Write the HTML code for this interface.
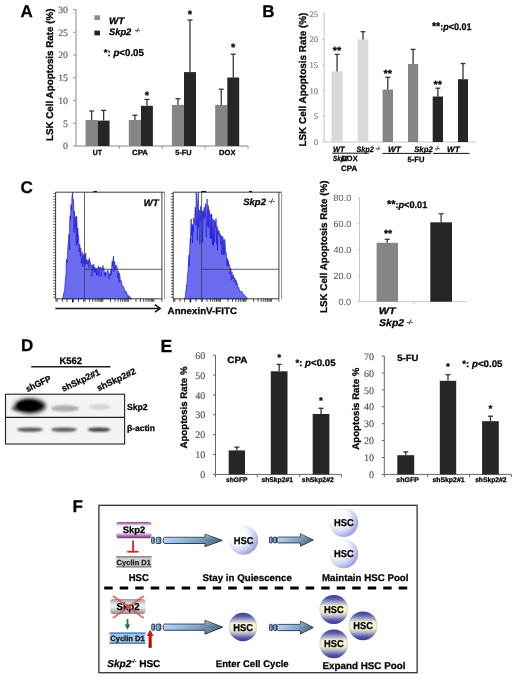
<!DOCTYPE html>
<html><head><meta charset="utf-8"><style>
html,body{margin:0;padding:0;background:#fff;}
svg{display:block;will-change:transform;} text{text-rendering:geometricPrecision;}
</style></head><body>
<svg width="520" height="679" viewBox="0 0 520 679">
<rect width="520" height="679" fill="#fff"/>
<text x="20.6" y="16.8" font-family='"Liberation Sans", sans-serif' font-size="17" font-weight="bold" font-style="normal" fill="#000" text-anchor="start"  stroke="#000" stroke-width="0.25">A</text>
<line x1="76.0" y1="9.5" x2="76.0" y2="146" stroke="#888" stroke-width="1" />
<line x1="73.3" y1="146.0" x2="75.7" y2="146.0" stroke="#888" stroke-width="1" />
<text x="68.0" y="149.3" font-family='"Liberation Serif", serif' font-size="9.8" font-weight="normal" font-style="normal" fill="#5a5a5a" text-anchor="end" stroke="#5a5a5a" stroke-width="0.15">0</text>
<line x1="73.3" y1="123.25" x2="75.7" y2="123.25" stroke="#888" stroke-width="1" />
<text x="68.0" y="126.55" font-family='"Liberation Serif", serif' font-size="9.8" font-weight="normal" font-style="normal" fill="#5a5a5a" text-anchor="end" stroke="#5a5a5a" stroke-width="0.15">5</text>
<line x1="73.3" y1="100.5" x2="75.7" y2="100.5" stroke="#888" stroke-width="1" />
<text x="68.0" y="103.8" font-family='"Liberation Serif", serif' font-size="9.8" font-weight="normal" font-style="normal" fill="#5a5a5a" text-anchor="end" stroke="#5a5a5a" stroke-width="0.15">10</text>
<line x1="73.3" y1="77.75" x2="75.7" y2="77.75" stroke="#888" stroke-width="1" />
<text x="68.0" y="81.05" font-family='"Liberation Serif", serif' font-size="9.8" font-weight="normal" font-style="normal" fill="#5a5a5a" text-anchor="end" stroke="#5a5a5a" stroke-width="0.15">15</text>
<line x1="73.3" y1="55.0" x2="75.7" y2="55.0" stroke="#888" stroke-width="1" />
<text x="68.0" y="58.3" font-family='"Liberation Serif", serif' font-size="9.8" font-weight="normal" font-style="normal" fill="#5a5a5a" text-anchor="end" stroke="#5a5a5a" stroke-width="0.15">20</text>
<line x1="73.3" y1="32.25" x2="75.7" y2="32.25" stroke="#888" stroke-width="1" />
<text x="68.0" y="35.55" font-family='"Liberation Serif", serif' font-size="9.8" font-weight="normal" font-style="normal" fill="#5a5a5a" text-anchor="end" stroke="#5a5a5a" stroke-width="0.15">25</text>
<line x1="73.3" y1="9.5" x2="75.7" y2="9.5" stroke="#888" stroke-width="1" />
<text x="68.0" y="12.8" font-family='"Liberation Serif", serif' font-size="9.8" font-weight="normal" font-style="normal" fill="#5a5a5a" text-anchor="end" stroke="#5a5a5a" stroke-width="0.15">30</text>
<line x1="75.7" y1="146" x2="248" y2="146" stroke="#888" stroke-width="1" />
<line x1="119.6" y1="146" x2="119.6" y2="148.5" stroke="#888" stroke-width="1" />
<line x1="162.4" y1="146" x2="162.4" y2="148.5" stroke="#888" stroke-width="1" />
<line x1="205.2" y1="146" x2="205.2" y2="148.5" stroke="#888" stroke-width="1" />
<line x1="248" y1="146" x2="248" y2="148.5" stroke="#888" stroke-width="1" />
<text transform="translate(53.4,74.8) rotate(-90)" x="0" y="0" font-family='"Liberation Sans", sans-serif' font-size="9.8" font-weight="bold" fill="#000" text-anchor="middle" stroke="#000" stroke-width="0.25" textLength="132.5" lengthAdjust="spacingAndGlyphs">LSK Cell Apoptosis Rate (%)</text>
<rect x="85.6" y="120" width="12.100000000000009" height="26" fill="#858585" />
<rect x="97.7" y="120.6" width="11.899999999999991" height="25.400000000000006" fill="#262626" />
<line x1="91.65" y1="120" x2="91.65" y2="111" stroke="#2a2a2a" stroke-width="1.2" />
<line x1="89.15" y1="111" x2="94.15" y2="111" stroke="#2a2a2a" stroke-width="1.2" />
<line x1="103.65" y1="120.6" x2="103.65" y2="110.4" stroke="#2a2a2a" stroke-width="1.2" />
<line x1="101.15" y1="110.4" x2="106.15" y2="110.4" stroke="#2a2a2a" stroke-width="1.2" />
<rect x="128.8" y="120" width="12.199999999999989" height="26" fill="#858585" />
<rect x="141" y="105.8" width="11.900000000000006" height="40.2" fill="#262626" />
<line x1="134.9" y1="120" x2="134.9" y2="115.2" stroke="#2a2a2a" stroke-width="1.2" />
<line x1="132.4" y1="115.2" x2="137.4" y2="115.2" stroke="#2a2a2a" stroke-width="1.2" />
<line x1="146.95" y1="105.8" x2="146.95" y2="99.4" stroke="#2a2a2a" stroke-width="1.2" />
<line x1="144.45" y1="99.4" x2="149.45" y2="99.4" stroke="#2a2a2a" stroke-width="1.2" />
<text x="146.95" y="98.89999999999999" font-family='"Liberation Sans", sans-serif' font-size="11" font-weight="bold" font-style="normal" fill="#000" text-anchor="middle"  stroke="#000" stroke-width="0.25">*</text>
<rect x="171.9" y="105" width="12.099999999999994" height="41" fill="#858585" />
<rect x="184" y="72.1" width="12" height="73.9" fill="#262626" />
<line x1="177.95" y1="105" x2="177.95" y2="98.7" stroke="#2a2a2a" stroke-width="1.2" />
<line x1="175.45" y1="98.7" x2="180.45" y2="98.7" stroke="#2a2a2a" stroke-width="1.2" />
<line x1="190.0" y1="72.1" x2="190.0" y2="20" stroke="#2a2a2a" stroke-width="1.2" />
<line x1="187.5" y1="20" x2="192.5" y2="20" stroke="#2a2a2a" stroke-width="1.2" />
<text x="190.0" y="18.3" font-family='"Liberation Sans", sans-serif' font-size="11" font-weight="bold" font-style="normal" fill="#000" text-anchor="middle"  stroke="#000" stroke-width="0.25">*</text>
<rect x="215.2" y="105" width="12.100000000000023" height="41" fill="#858585" />
<rect x="227.3" y="77.5" width="11.899999999999977" height="68.5" fill="#262626" />
<line x1="221.25" y1="105" x2="221.25" y2="89.2" stroke="#2a2a2a" stroke-width="1.2" />
<line x1="218.75" y1="89.2" x2="223.75" y2="89.2" stroke="#2a2a2a" stroke-width="1.2" />
<line x1="233.25" y1="77.5" x2="233.25" y2="54.2" stroke="#2a2a2a" stroke-width="1.2" />
<line x1="230.75" y1="54.2" x2="235.75" y2="54.2" stroke="#2a2a2a" stroke-width="1.2" />
<text x="233.25" y="50.5" font-family='"Liberation Sans", sans-serif' font-size="11" font-weight="bold" font-style="normal" fill="#000" text-anchor="middle"  stroke="#000" stroke-width="0.25">*</text>
<text x="97.4" y="154.8" font-family='"Liberation Sans", sans-serif' font-size="7.4" font-weight="bold" font-style="normal" fill="#000" text-anchor="middle" textLength="9.2" lengthAdjust="spacingAndGlyphs"  stroke="#000" stroke-width="0.25">UT</text>
<text x="140.0" y="154.8" font-family='"Liberation Sans", sans-serif' font-size="7.4" font-weight="bold" font-style="normal" fill="#000" text-anchor="middle" textLength="16" lengthAdjust="spacingAndGlyphs"  stroke="#000" stroke-width="0.25">CPA</text>
<text x="183.5" y="154.8" font-family='"Liberation Sans", sans-serif' font-size="7.4" font-weight="bold" font-style="normal" fill="#000" text-anchor="middle" textLength="16.3" lengthAdjust="spacingAndGlyphs"  stroke="#000" stroke-width="0.25">5-FU</text>
<text x="227.3" y="154.8" font-family='"Liberation Sans", sans-serif' font-size="7.4" font-weight="bold" font-style="normal" fill="#000" text-anchor="middle" textLength="16.4" lengthAdjust="spacingAndGlyphs"  stroke="#000" stroke-width="0.25">DOX</text>
<rect x="94.4" y="15.3" width="5.6" height="4.8" fill="#8c8c8c" />
<rect x="94.4" y="30.6" width="5.6" height="4.8" fill="#222" />
<text x="109" y="23.75" font-family='"Liberation Sans", sans-serif' font-size="9.5" font-weight="bold" font-style="italic" fill="#000" text-anchor="start" textLength="15.4" lengthAdjust="spacingAndGlyphs"  stroke="#000" stroke-width="0.25">WT</text>
<text x="109" y="34.9" font-family='"Liberation Sans", sans-serif' font-size="9.4" font-weight="bold" font-style="italic" fill="#000" text-anchor="start" textLength="22.3" lengthAdjust="spacingAndGlyphs"  stroke="#000" stroke-width="0.25">Skp2</text>
<text x="135" y="32.3" font-family='"Liberation Sans", sans-serif' font-size="5.2" font-weight="bold" font-style="italic" fill="#333" text-anchor="start"  stroke="#333" stroke-width="0.25">-/-</text>
<text x="103.7" y="55.9" font-family='"Liberation Sans", sans-serif' font-size="10" font-weight="bold" stroke="#000" stroke-width="0.25" textLength="40.2" lengthAdjust="spacingAndGlyphs">*: <tspan font-style="italic">p</tspan>&lt;0.05</text>
<text x="262.2" y="17.2" font-family='"Liberation Sans", sans-serif' font-size="17" font-weight="bold" font-style="normal" fill="#000" text-anchor="start"  stroke="#000" stroke-width="0.25">B</text>
<line x1="324.2" y1="13.75" x2="324.2" y2="142" stroke="#c4c4c4" stroke-width="1" />
<line x1="324.2" y1="142" x2="475.4" y2="142" stroke="#c4c4c4" stroke-width="1" />
<line x1="322.2" y1="142.0" x2="324.2" y2="142.0" stroke="#c4c4c4" stroke-width="1" />
<text x="318" y="144.9" font-family='"Liberation Serif", serif' font-size="8.6" font-weight="normal" font-style="normal" fill="#808080" text-anchor="end" stroke="#808080" stroke-width="0.15">0</text>
<line x1="322.2" y1="116.35" x2="324.2" y2="116.35" stroke="#c4c4c4" stroke-width="1" />
<text x="318" y="119.25" font-family='"Liberation Serif", serif' font-size="8.6" font-weight="normal" font-style="normal" fill="#808080" text-anchor="end" stroke="#808080" stroke-width="0.15">5</text>
<line x1="322.2" y1="90.7" x2="324.2" y2="90.7" stroke="#c4c4c4" stroke-width="1" />
<text x="318" y="93.60000000000001" font-family='"Liberation Serif", serif' font-size="8.6" font-weight="normal" font-style="normal" fill="#808080" text-anchor="end" stroke="#808080" stroke-width="0.15">10</text>
<line x1="322.2" y1="65.05" x2="324.2" y2="65.05" stroke="#c4c4c4" stroke-width="1" />
<text x="318" y="67.95" font-family='"Liberation Serif", serif' font-size="8.6" font-weight="normal" font-style="normal" fill="#808080" text-anchor="end" stroke="#808080" stroke-width="0.15">15</text>
<line x1="322.2" y1="39.400000000000006" x2="324.2" y2="39.400000000000006" stroke="#c4c4c4" stroke-width="1" />
<text x="318" y="42.300000000000004" font-family='"Liberation Serif", serif' font-size="8.6" font-weight="normal" font-style="normal" fill="#808080" text-anchor="end" stroke="#808080" stroke-width="0.15">20</text>
<line x1="322.2" y1="13.75" x2="324.2" y2="13.75" stroke="#c4c4c4" stroke-width="1" />
<text x="318" y="16.65" font-family='"Liberation Serif", serif' font-size="8.6" font-weight="normal" font-style="normal" fill="#808080" text-anchor="end" stroke="#808080" stroke-width="0.15">25</text>
<text transform="translate(306.3,79.6) rotate(-90)" x="0" y="0" font-family='"Liberation Sans", sans-serif' font-size="10" font-weight="bold" fill="#000" text-anchor="middle" stroke="#000" stroke-width="0.25" textLength="134" lengthAdjust="spacingAndGlyphs">LSK Cell Apoptosis Rate (%)</text>
<rect x="331.5" y="71.5" width="11.199999999999989" height="70.5" fill="#d9d9d9" />
<line x1="337.1" y1="71.5" x2="337.1" y2="54.4" stroke="#333" stroke-width="1.3" />
<line x1="334.70000000000005" y1="54.4" x2="339.5" y2="54.4" stroke="#333" stroke-width="1.3" />
<text x="337.1" y="53.9" font-family='"Liberation Sans", sans-serif' font-size="10.5" font-weight="bold" font-style="normal" fill="#000" text-anchor="middle" textLength="8.5" lengthAdjust="spacingAndGlyphs"  stroke="#000" stroke-width="0.25">**</text>
<rect x="357.7" y="39.4" width="10.600000000000023" height="102.6" fill="#d9d9d9" />
<line x1="363.0" y1="39.4" x2="363.0" y2="31.7" stroke="#333" stroke-width="1.3" />
<line x1="360.6" y1="31.7" x2="365.4" y2="31.7" stroke="#333" stroke-width="1.3" />
<rect x="382.6" y="89.5" width="10.399999999999977" height="52.5" fill="#858585" />
<line x1="387.8" y1="89.5" x2="387.8" y2="77.3" stroke="#333" stroke-width="1.3" />
<line x1="385.40000000000003" y1="77.3" x2="390.2" y2="77.3" stroke="#333" stroke-width="1.3" />
<text x="387.8" y="76.9" font-family='"Liberation Sans", sans-serif' font-size="10.5" font-weight="bold" font-style="normal" fill="#000" text-anchor="middle" textLength="8.5" lengthAdjust="spacingAndGlyphs"  stroke="#000" stroke-width="0.25">**</text>
<rect x="408.0" y="64.0" width="10.199999999999989" height="78.0" fill="#858585" />
<line x1="413.1" y1="64.0" x2="413.1" y2="49.4" stroke="#333" stroke-width="1.3" />
<line x1="410.70000000000005" y1="49.4" x2="415.5" y2="49.4" stroke="#333" stroke-width="1.3" />
<rect x="432.7" y="96.5" width="10.300000000000011" height="45.5" fill="#262626" />
<line x1="437.85" y1="96.5" x2="437.85" y2="88.2" stroke="#333" stroke-width="1.3" />
<line x1="435.45000000000005" y1="88.2" x2="440.25" y2="88.2" stroke="#333" stroke-width="1.3" />
<text x="437.85" y="87.9" font-family='"Liberation Sans", sans-serif' font-size="10.5" font-weight="bold" font-style="normal" fill="#000" text-anchor="middle" textLength="8.5" lengthAdjust="spacingAndGlyphs"  stroke="#000" stroke-width="0.25">**</text>
<rect x="458.0" y="79.2" width="10.0" height="62.8" fill="#262626" />
<line x1="463.0" y1="79.2" x2="463.0" y2="63.5" stroke="#333" stroke-width="1.3" />
<line x1="460.6" y1="63.5" x2="465.4" y2="63.5" stroke="#333" stroke-width="1.3" />
<text x="431.9" y="30.4" font-family='"Liberation Sans", sans-serif' font-size="9.6" font-weight="bold" stroke="#000" stroke-width="0.25" textLength="39.6" lengthAdjust="spacingAndGlyphs"><tspan font-size="11.5">**</tspan>:<tspan font-style="italic">p</tspan>&lt;0.01</text>
<text x="333" y="151.6" font-family='"Liberation Sans", sans-serif' font-size="8" font-weight="bold" font-style="italic" fill="#000" text-anchor="start" textLength="11.6" lengthAdjust="spacingAndGlyphs"  stroke="#000" stroke-width="0.25">WT</text>
<text x="388" y="151.6" font-family='"Liberation Sans", sans-serif' font-size="8" font-weight="bold" font-style="italic" fill="#000" text-anchor="start" textLength="12.8" lengthAdjust="spacingAndGlyphs"  stroke="#000" stroke-width="0.25">WT</text>
<text x="447" y="151.6" font-family='"Liberation Sans", sans-serif' font-size="8" font-weight="bold" font-style="italic" fill="#000" text-anchor="start" textLength="12.6" lengthAdjust="spacingAndGlyphs"  stroke="#000" stroke-width="0.25">WT</text>
<text x="356.5" y="151.6" font-family='"Liberation Sans", sans-serif' font-size="8" font-weight="bold" font-style="italic" fill="#000" text-anchor="start" textLength="17.3" lengthAdjust="spacingAndGlyphs"  stroke="#000" stroke-width="0.25">Skp2</text>
<text x="375.8" y="149.6" font-family='"Liberation Sans", sans-serif' font-size="4.8" font-weight="bold" font-style="italic" fill="#333" text-anchor="start"  stroke="#333" stroke-width="0.25">-/-</text>
<text x="414.2" y="151.6" font-family='"Liberation Sans", sans-serif' font-size="8" font-weight="bold" font-style="italic" fill="#000" text-anchor="start" textLength="18.5" lengthAdjust="spacingAndGlyphs"  stroke="#000" stroke-width="0.25">Skp2</text>
<text x="435" y="149.6" font-family='"Liberation Sans", sans-serif' font-size="4.8" font-weight="bold" font-style="italic" fill="#333" text-anchor="start"  stroke="#333" stroke-width="0.25">-/-</text>
<line x1="332.2" y1="153.2" x2="369" y2="153.2" stroke="#111" stroke-width="1" />
<line x1="382.5" y1="153.4" x2="431" y2="153.4" stroke="#111" stroke-width="1" />
<line x1="433" y1="153.4" x2="469.6" y2="153.4" stroke="#111" stroke-width="1" />
<text x="333" y="160.8" font-family='"Liberation Sans", sans-serif' font-size="7.6" font-weight="bold" font-style="italic" fill="#000" text-anchor="start" textLength="15" lengthAdjust="spacingAndGlyphs"  stroke="#000" stroke-width="0.25">Skp2</text>
<text x="341.5" y="160.8" font-family='"Liberation Sans", sans-serif' font-size="7.6" font-weight="bold" font-style="normal" fill="#000" text-anchor="start" textLength="16.1" lengthAdjust="spacingAndGlyphs"  stroke="#000" stroke-width="0.25">DOX</text>
<text x="341" y="171.1" font-family='"Liberation Sans", sans-serif' font-size="7.8" font-weight="bold" font-style="normal" fill="#000" text-anchor="start" textLength="16.2" lengthAdjust="spacingAndGlyphs"  stroke="#000" stroke-width="0.25">CPA</text>
<text x="407.5" y="161.7" font-family='"Liberation Sans", sans-serif' font-size="7.6" font-weight="bold" font-style="normal" fill="#000" text-anchor="start" textLength="16.9" lengthAdjust="spacingAndGlyphs"  stroke="#000" stroke-width="0.25">5-FU</text>
<text x="20.5" y="193.3" font-family='"Liberation Sans", sans-serif' font-size="17" font-weight="bold" font-style="normal" fill="#000" text-anchor="start"  stroke="#000" stroke-width="0.25">C</text>
<path d="M62.70,298.8 L62.70,298.3 L62.70,298.8 L63.39,294.9 L63.99,292.3 L64.58,290.4 L65.00,285.0 L65.28,280.3 L66.00,273.4 L66.20,264.0 L66.69,259.1 L67.12,263.1 L67.79,248.1 L68.00,245.7 L68.54,241.0 L68.97,234.1 L69.58,250.1 L69.60,222.6 L70.14,215.6 L70.57,219.9 L70.80,206.5 L71.15,204.6 L71.75,210.5 L71.90,197.2 L72.25,195.0 L72.60,192.4 L72.77,198.7 L73.50,200.6 L73.50,199.5 L74.12,232.7 L74.20,211.0 L74.60,215.0 L75.07,228.1 L75.40,217.0 L75.75,216.8 L76.42,245.7 L76.50,216.0 L76.99,221.7 L77.52,243.6 L77.70,228.0 L78.26,234.4 L78.80,238.0 L78.99,251.9 L79.62,244.2 L80.00,246.0 L80.33,256.2 L80.81,248.3 L81.43,263.4 L82.09,252.2 L82.30,252.0 L82.69,266.6 L83.30,254.1 L83.86,263.3 L84.29,256.1 L84.60,255.0 L85.06,265.0 L85.63,253.7 L85.80,253.0 L86.11,264.1 L86.88,259.5 L87.00,260.0 L87.61,264.1 L88.22,260.1 L88.98,267.8 L89.20,258.0 L89.56,259.3 L90.33,263.0 L91.03,264.8 L91.50,265.0 L91.75,276.5 L92.43,265.0 L93.05,270.7 L93.50,265.3 L93.80,264.0 L94.23,272.8 L94.72,266.9 L95.27,271.8 L95.88,267.9 L96.20,268.5 L96.53,275.8 L97.11,268.2 L97.60,274.6 L98.33,266.3 L98.50,266.0 L99.03,276.4 L99.75,266.9 L100.41,269.4 L100.80,267.5 L100.84,269.4 L101.26,276.5 L101.77,267.7 L102.31,268.2 L102.79,266.6 L103.00,265.5 L103.40,269.7 L103.92,268.3 L104.46,275.3 L104.88,271.7 L105.40,272.0 L105.44,276.9 L105.93,273.1 L106.53,273.9 L107.17,271.4 L107.70,269.5 L107.89,271.2 L108.31,271.5 L108.79,279.1 L109.46,273.8 L110.00,273.5 L110.07,276.1 L110.84,269.3 L111.34,274.7 L111.91,264.3 L112.30,261.0 L112.53,265.9 L113.18,258.4 L113.60,256.0 L113.95,271.8 L114.48,261.4 L114.80,263.0 L115.21,268.8 L115.97,264.9 L116.48,267.1 L117.00,266.5 L117.21,268.2 L117.65,278.1 L118.41,271.2 L119.15,282.5 L119.20,273.0 L119.82,275.7 L120.42,281.3 L120.97,280.3 L121.50,282.0 L121.54,283.9 L122.00,284.5 L122.66,286.5 L123.26,286.7 L123.80,287.0 L124.00,287.9 L124.50,290.1 L125.03,292.9 L125.74,291.0 L126.20,291.5 L126.40,294.1 L127.15,293.7 L127.70,295.7 L128.37,298.2 L128.50,295.5 L128.87,296.7 L129.32,296.5 L129.80,297.4 L130.30,297.2 L131.02,297.9 L131.56,298.8 L132.09,298.7 L132.20,298.8 Z" fill="#6c6cf0" stroke="#1616d8" stroke-width="0.65" stroke-linejoin="miter" stroke-miterlimit="4"/>
<line x1="53.300000000000004" y1="193.7" x2="55.6" y2="193.7" stroke="#333" stroke-width="0.8" />
<line x1="53.300000000000004" y1="196.5" x2="55.6" y2="196.5" stroke="#333" stroke-width="0.8" />
<line x1="53.300000000000004" y1="199.3" x2="55.6" y2="199.3" stroke="#333" stroke-width="0.8" />
<line x1="53.300000000000004" y1="202.10000000000002" x2="55.6" y2="202.10000000000002" stroke="#333" stroke-width="0.8" />
<line x1="53.300000000000004" y1="204.90000000000003" x2="55.6" y2="204.90000000000003" stroke="#333" stroke-width="0.8" />
<line x1="53.300000000000004" y1="207.70000000000005" x2="55.6" y2="207.70000000000005" stroke="#333" stroke-width="0.8" />
<line x1="53.300000000000004" y1="210.50000000000006" x2="55.6" y2="210.50000000000006" stroke="#333" stroke-width="0.8" />
<line x1="53.300000000000004" y1="213.30000000000007" x2="55.6" y2="213.30000000000007" stroke="#333" stroke-width="0.8" />
<line x1="53.300000000000004" y1="216.10000000000008" x2="55.6" y2="216.10000000000008" stroke="#333" stroke-width="0.8" />
<line x1="53.300000000000004" y1="218.9000000000001" x2="55.6" y2="218.9000000000001" stroke="#333" stroke-width="0.8" />
<line x1="53.300000000000004" y1="221.7000000000001" x2="55.6" y2="221.7000000000001" stroke="#333" stroke-width="0.8" />
<line x1="53.300000000000004" y1="224.5000000000001" x2="55.6" y2="224.5000000000001" stroke="#333" stroke-width="0.8" />
<line x1="53.300000000000004" y1="227.30000000000013" x2="55.6" y2="227.30000000000013" stroke="#333" stroke-width="0.8" />
<line x1="53.300000000000004" y1="230.10000000000014" x2="55.6" y2="230.10000000000014" stroke="#333" stroke-width="0.8" />
<line x1="53.300000000000004" y1="232.90000000000015" x2="55.6" y2="232.90000000000015" stroke="#333" stroke-width="0.8" />
<line x1="53.300000000000004" y1="235.70000000000016" x2="55.6" y2="235.70000000000016" stroke="#333" stroke-width="0.8" />
<line x1="53.300000000000004" y1="238.50000000000017" x2="55.6" y2="238.50000000000017" stroke="#333" stroke-width="0.8" />
<line x1="53.300000000000004" y1="241.30000000000018" x2="55.6" y2="241.30000000000018" stroke="#333" stroke-width="0.8" />
<line x1="53.300000000000004" y1="244.1000000000002" x2="55.6" y2="244.1000000000002" stroke="#333" stroke-width="0.8" />
<line x1="53.300000000000004" y1="246.9000000000002" x2="55.6" y2="246.9000000000002" stroke="#333" stroke-width="0.8" />
<line x1="53.300000000000004" y1="249.70000000000022" x2="55.6" y2="249.70000000000022" stroke="#333" stroke-width="0.8" />
<line x1="53.300000000000004" y1="252.50000000000023" x2="55.6" y2="252.50000000000023" stroke="#333" stroke-width="0.8" />
<line x1="53.300000000000004" y1="255.30000000000024" x2="55.6" y2="255.30000000000024" stroke="#333" stroke-width="0.8" />
<line x1="53.300000000000004" y1="258.10000000000025" x2="55.6" y2="258.10000000000025" stroke="#333" stroke-width="0.8" />
<line x1="53.300000000000004" y1="260.90000000000026" x2="55.6" y2="260.90000000000026" stroke="#333" stroke-width="0.8" />
<line x1="53.300000000000004" y1="263.7000000000003" x2="55.6" y2="263.7000000000003" stroke="#333" stroke-width="0.8" />
<line x1="53.300000000000004" y1="266.5000000000003" x2="55.6" y2="266.5000000000003" stroke="#333" stroke-width="0.8" />
<line x1="53.300000000000004" y1="269.3000000000003" x2="55.6" y2="269.3000000000003" stroke="#333" stroke-width="0.8" />
<line x1="53.300000000000004" y1="272.1000000000003" x2="55.6" y2="272.1000000000003" stroke="#333" stroke-width="0.8" />
<line x1="53.300000000000004" y1="274.9000000000003" x2="55.6" y2="274.9000000000003" stroke="#333" stroke-width="0.8" />
<line x1="53.300000000000004" y1="277.70000000000033" x2="55.6" y2="277.70000000000033" stroke="#333" stroke-width="0.8" />
<line x1="53.300000000000004" y1="280.50000000000034" x2="55.6" y2="280.50000000000034" stroke="#333" stroke-width="0.8" />
<line x1="53.300000000000004" y1="283.30000000000035" x2="55.6" y2="283.30000000000035" stroke="#333" stroke-width="0.8" />
<line x1="53.300000000000004" y1="286.10000000000036" x2="55.6" y2="286.10000000000036" stroke="#333" stroke-width="0.8" />
<line x1="53.300000000000004" y1="288.9000000000004" x2="55.6" y2="288.9000000000004" stroke="#333" stroke-width="0.8" />
<line x1="53.300000000000004" y1="291.7000000000004" x2="55.6" y2="291.7000000000004" stroke="#333" stroke-width="0.8" />
<line x1="53.300000000000004" y1="294.5000000000004" x2="55.6" y2="294.5000000000004" stroke="#333" stroke-width="0.8" />
<line x1="53.300000000000004" y1="297.3000000000004" x2="55.6" y2="297.3000000000004" stroke="#333" stroke-width="0.8" />
<line x1="56.0" y1="298.8" x2="56.0" y2="301.8" stroke="#222" stroke-width="0.85" />
<line x1="57.2" y1="298.8" x2="57.2" y2="301.8" stroke="#222" stroke-width="0.85" />
<line x1="62.4" y1="298.8" x2="62.4" y2="301.8" stroke="#222" stroke-width="0.85" />
<line x1="67.0" y1="298.8" x2="67.0" y2="301.8" stroke="#222" stroke-width="0.85" />
<line x1="78.5" y1="298.8" x2="78.5" y2="301.8" stroke="#222" stroke-width="0.85" />
<line x1="83.7" y1="298.8" x2="83.7" y2="301.8" stroke="#222" stroke-width="0.85" />
<line x1="84.97626488943152" y1="298.8" x2="84.97626488943152" y2="301.8" stroke="#222" stroke-width="0.85" />
<line x1="89.4665919953514" y1="298.8" x2="89.4665919953514" y2="301.8" stroke="#222" stroke-width="0.85" />
<line x1="92.65252977886304" y1="298.8" x2="92.65252977886304" y2="301.8" stroke="#222" stroke-width="0.85" />
<line x1="95.12373511056848" y1="298.8" x2="95.12373511056848" y2="301.8" stroke="#222" stroke-width="0.85" />
<line x1="97.1428568847829" y1="298.8" x2="97.1428568847829" y2="301.8" stroke="#222" stroke-width="0.85" />
<line x1="98.85000002036355" y1="298.8" x2="98.85000002036355" y2="301.8" stroke="#222" stroke-width="0.85" />
<line x1="100.32879466829456" y1="298.8" x2="100.32879466829456" y2="301.8" stroke="#222" stroke-width="0.85" />
<line x1="101.63318399070278" y1="298.8" x2="101.63318399070278" y2="301.8" stroke="#222" stroke-width="0.85" />
<line x1="102.8" y1="298.8" x2="102.8" y2="301.8" stroke="#222" stroke-width="0.85" />
<line x1="110.47626488943152" y1="298.8" x2="110.47626488943152" y2="301.8" stroke="#222" stroke-width="0.85" />
<line x1="114.9665919953514" y1="298.8" x2="114.9665919953514" y2="301.8" stroke="#222" stroke-width="0.85" />
<line x1="118.15252977886304" y1="298.8" x2="118.15252977886304" y2="301.8" stroke="#222" stroke-width="0.85" />
<line x1="120.62373511056848" y1="298.8" x2="120.62373511056848" y2="301.8" stroke="#222" stroke-width="0.85" />
<line x1="122.6428568847829" y1="298.8" x2="122.6428568847829" y2="301.8" stroke="#222" stroke-width="0.85" />
<line x1="124.35000002036355" y1="298.8" x2="124.35000002036355" y2="301.8" stroke="#222" stroke-width="0.85" />
<line x1="125.82879466829456" y1="298.8" x2="125.82879466829456" y2="301.8" stroke="#222" stroke-width="0.85" />
<line x1="127.13318399070278" y1="298.8" x2="127.13318399070278" y2="301.8" stroke="#222" stroke-width="0.85" />
<line x1="128.3" y1="298.8" x2="128.3" y2="301.8" stroke="#222" stroke-width="0.85" />
<line x1="135.97626488943152" y1="298.8" x2="135.97626488943152" y2="301.8" stroke="#222" stroke-width="0.85" />
<line x1="140.4665919953514" y1="298.8" x2="140.4665919953514" y2="301.8" stroke="#222" stroke-width="0.85" />
<line x1="143.65252977886306" y1="298.8" x2="143.65252977886306" y2="301.8" stroke="#222" stroke-width="0.85" />
<line x1="146.1237351105685" y1="298.8" x2="146.1237351105685" y2="301.8" stroke="#222" stroke-width="0.85" />
<line x1="148.14285688478293" y1="298.8" x2="148.14285688478293" y2="301.8" stroke="#222" stroke-width="0.85" />
<line x1="149.85000002036355" y1="298.8" x2="149.85000002036355" y2="301.8" stroke="#222" stroke-width="0.85" />
<line x1="151.32879466829456" y1="298.8" x2="151.32879466829456" y2="301.8" stroke="#222" stroke-width="0.85" />
<line x1="152.6331839907028" y1="298.8" x2="152.6331839907028" y2="301.8" stroke="#222" stroke-width="0.85" />
<line x1="153.8" y1="298.8" x2="153.8" y2="301.8" stroke="#222" stroke-width="0.85" />
<line x1="161.9" y1="298.8" x2="161.9" y2="301.8" stroke="#333" stroke-width="0.8" />
<rect x="72.0" y="299.1" width="1.6" height="3.2" fill="#111" />
<path d="M55.6,298.8 L55.6,192.2 L164.6,192.2 M161.9,192.2 L161.9,298.8 L55.6,298.8" fill="none" stroke="#2a2a2a" stroke-width="0.9"/>
<line x1="164.6" y1="192.2" x2="164.6" y2="299.3" stroke="#8a8a8a" stroke-width="0.9" />
<line x1="84.5" y1="192.2" x2="84.5" y2="298.8" stroke="#3a3a48" stroke-width="0.8" />
<line x1="84.5" y1="269.3" x2="161.9" y2="269.3" stroke="#3a3a48" stroke-width="0.8" />
<path d="M185.00,298.8 L185.00,298.5 L185.00,298.8 L185.44,294.8 L186.16,288.7 L186.50,285.0 L186.85,286.2 L187.38,277.3 L187.70,273.0 L188.01,271.6 L188.58,261.6 L189.00,255.0 L189.14,266.2 L189.92,244.1 L190.30,238.0 L190.50,242.3 L190.93,225.0 L191.20,219.0 L191.36,235.5 L191.90,224.3 L192.50,226.0 L192.51,242.7 L193.01,224.3 L193.44,232.0 L193.80,218.0 L193.91,221.1 L194.57,222.8 L195.00,212.0 L195.32,207.1 L196.02,225.3 L196.20,192.5 L196.77,199.1 L197.30,205.0 L197.32,239.9 L198.08,197.0 L198.30,192.5 L198.56,227.2 L199.24,209.9 L199.60,215.0 L199.83,243.7 L200.43,209.5 L200.90,206.0 L201.15,221.7 L201.89,210.6 L202.50,212.0 L202.52,242.6 L203.20,210.8 L203.79,219.0 L204.00,208.0 L204.33,207.3 L205.08,217.4 L205.30,204.5 L205.82,203.5 L206.35,236.9 L207.03,200.4 L207.10,199.0 L207.68,225.5 L208.22,205.5 L208.71,227.7 L208.90,209.5 L209.47,212.1 L210.00,214.0 L210.18,238.3 L210.93,214.3 L211.42,238.9 L211.50,214.0 L211.86,215.7 L212.36,244.5 L212.82,219.1 L213.00,219.0 L213.43,245.6 L213.94,220.3 L214.20,220.0 L214.51,242.2 L214.94,221.4 L215.49,226.8 L216.00,218.5 L216.15,221.6 L216.58,244.2 L217.01,226.0 L217.52,250.3 L217.70,229.0 L218.00,230.1 L218.56,234.1 L219.00,231.0 L219.33,233.1 L219.81,236.2 L220.35,235.1 L220.40,234.0 L220.81,244.5 L221.24,236.1 L221.82,254.7 L222.00,236.0 L222.51,238.1 L223.00,237.5 L223.24,254.8 L223.83,239.4 L224.33,254.8 L224.80,239.5 L224.87,241.0 L225.60,251.1 L226.23,253.2 L226.50,255.0 L226.79,265.1 L227.26,258.1 L227.90,266.5 L228.30,260.5 L228.33,260.8 L228.95,265.8 L229.39,264.7 L229.85,274.1 L230.45,267.8 L231.00,269.5 L231.22,280.3 L232.00,271.7 L232.51,279.0 L233.16,275.1 L233.60,275.0 L233.86,282.1 L234.38,277.7 L234.80,278.6 L235.36,279.2 L235.82,285.0 L236.30,280.5 L236.33,281.1 L236.83,283.9 L237.44,283.9 L238.03,287.1 L238.68,287.4 L238.90,287.5 L239.45,291.3 L240.02,291.1 L240.63,291.9 L241.07,291.4 L241.55,291.5 L241.60,291.0 L242.26,292.5 L242.81,294.0 L243.56,294.3 L244.20,294.5 L244.34,295.3 L244.76,295.7 L245.43,296.1 L245.96,297.3 L246.39,297.3 L246.95,298.8 L247.55,298.4 L247.70,298.8 Z" fill="#6c6cf0" stroke="#1616d8" stroke-width="0.65" stroke-linejoin="miter" stroke-miterlimit="4"/>
<line x1="170.89999999999998" y1="193.7" x2="173.2" y2="193.7" stroke="#333" stroke-width="0.8" />
<line x1="170.89999999999998" y1="196.5" x2="173.2" y2="196.5" stroke="#333" stroke-width="0.8" />
<line x1="170.89999999999998" y1="199.3" x2="173.2" y2="199.3" stroke="#333" stroke-width="0.8" />
<line x1="170.89999999999998" y1="202.10000000000002" x2="173.2" y2="202.10000000000002" stroke="#333" stroke-width="0.8" />
<line x1="170.89999999999998" y1="204.90000000000003" x2="173.2" y2="204.90000000000003" stroke="#333" stroke-width="0.8" />
<line x1="170.89999999999998" y1="207.70000000000005" x2="173.2" y2="207.70000000000005" stroke="#333" stroke-width="0.8" />
<line x1="170.89999999999998" y1="210.50000000000006" x2="173.2" y2="210.50000000000006" stroke="#333" stroke-width="0.8" />
<line x1="170.89999999999998" y1="213.30000000000007" x2="173.2" y2="213.30000000000007" stroke="#333" stroke-width="0.8" />
<line x1="170.89999999999998" y1="216.10000000000008" x2="173.2" y2="216.10000000000008" stroke="#333" stroke-width="0.8" />
<line x1="170.89999999999998" y1="218.9000000000001" x2="173.2" y2="218.9000000000001" stroke="#333" stroke-width="0.8" />
<line x1="170.89999999999998" y1="221.7000000000001" x2="173.2" y2="221.7000000000001" stroke="#333" stroke-width="0.8" />
<line x1="170.89999999999998" y1="224.5000000000001" x2="173.2" y2="224.5000000000001" stroke="#333" stroke-width="0.8" />
<line x1="170.89999999999998" y1="227.30000000000013" x2="173.2" y2="227.30000000000013" stroke="#333" stroke-width="0.8" />
<line x1="170.89999999999998" y1="230.10000000000014" x2="173.2" y2="230.10000000000014" stroke="#333" stroke-width="0.8" />
<line x1="170.89999999999998" y1="232.90000000000015" x2="173.2" y2="232.90000000000015" stroke="#333" stroke-width="0.8" />
<line x1="170.89999999999998" y1="235.70000000000016" x2="173.2" y2="235.70000000000016" stroke="#333" stroke-width="0.8" />
<line x1="170.89999999999998" y1="238.50000000000017" x2="173.2" y2="238.50000000000017" stroke="#333" stroke-width="0.8" />
<line x1="170.89999999999998" y1="241.30000000000018" x2="173.2" y2="241.30000000000018" stroke="#333" stroke-width="0.8" />
<line x1="170.89999999999998" y1="244.1000000000002" x2="173.2" y2="244.1000000000002" stroke="#333" stroke-width="0.8" />
<line x1="170.89999999999998" y1="246.9000000000002" x2="173.2" y2="246.9000000000002" stroke="#333" stroke-width="0.8" />
<line x1="170.89999999999998" y1="249.70000000000022" x2="173.2" y2="249.70000000000022" stroke="#333" stroke-width="0.8" />
<line x1="170.89999999999998" y1="252.50000000000023" x2="173.2" y2="252.50000000000023" stroke="#333" stroke-width="0.8" />
<line x1="170.89999999999998" y1="255.30000000000024" x2="173.2" y2="255.30000000000024" stroke="#333" stroke-width="0.8" />
<line x1="170.89999999999998" y1="258.10000000000025" x2="173.2" y2="258.10000000000025" stroke="#333" stroke-width="0.8" />
<line x1="170.89999999999998" y1="260.90000000000026" x2="173.2" y2="260.90000000000026" stroke="#333" stroke-width="0.8" />
<line x1="170.89999999999998" y1="263.7000000000003" x2="173.2" y2="263.7000000000003" stroke="#333" stroke-width="0.8" />
<line x1="170.89999999999998" y1="266.5000000000003" x2="173.2" y2="266.5000000000003" stroke="#333" stroke-width="0.8" />
<line x1="170.89999999999998" y1="269.3000000000003" x2="173.2" y2="269.3000000000003" stroke="#333" stroke-width="0.8" />
<line x1="170.89999999999998" y1="272.1000000000003" x2="173.2" y2="272.1000000000003" stroke="#333" stroke-width="0.8" />
<line x1="170.89999999999998" y1="274.9000000000003" x2="173.2" y2="274.9000000000003" stroke="#333" stroke-width="0.8" />
<line x1="170.89999999999998" y1="277.70000000000033" x2="173.2" y2="277.70000000000033" stroke="#333" stroke-width="0.8" />
<line x1="170.89999999999998" y1="280.50000000000034" x2="173.2" y2="280.50000000000034" stroke="#333" stroke-width="0.8" />
<line x1="170.89999999999998" y1="283.30000000000035" x2="173.2" y2="283.30000000000035" stroke="#333" stroke-width="0.8" />
<line x1="170.89999999999998" y1="286.10000000000036" x2="173.2" y2="286.10000000000036" stroke="#333" stroke-width="0.8" />
<line x1="170.89999999999998" y1="288.9000000000004" x2="173.2" y2="288.9000000000004" stroke="#333" stroke-width="0.8" />
<line x1="170.89999999999998" y1="291.7000000000004" x2="173.2" y2="291.7000000000004" stroke="#333" stroke-width="0.8" />
<line x1="170.89999999999998" y1="294.5000000000004" x2="173.2" y2="294.5000000000004" stroke="#333" stroke-width="0.8" />
<line x1="170.89999999999998" y1="297.3000000000004" x2="173.2" y2="297.3000000000004" stroke="#333" stroke-width="0.8" />
<line x1="173.6" y1="298.8" x2="173.6" y2="301.8" stroke="#222" stroke-width="0.85" />
<line x1="174.79999999999998" y1="298.8" x2="174.79999999999998" y2="301.8" stroke="#222" stroke-width="0.85" />
<line x1="180.0" y1="298.8" x2="180.0" y2="301.8" stroke="#222" stroke-width="0.85" />
<line x1="184.6" y1="298.8" x2="184.6" y2="301.8" stroke="#222" stroke-width="0.85" />
<line x1="196.1" y1="298.8" x2="196.1" y2="301.8" stroke="#222" stroke-width="0.85" />
<line x1="201.29999999999998" y1="298.8" x2="201.29999999999998" y2="301.8" stroke="#222" stroke-width="0.85" />
<line x1="202.5762648894315" y1="298.8" x2="202.5762648894315" y2="301.8" stroke="#222" stroke-width="0.85" />
<line x1="207.0665919953514" y1="298.8" x2="207.0665919953514" y2="301.8" stroke="#222" stroke-width="0.85" />
<line x1="210.25252977886302" y1="298.8" x2="210.25252977886302" y2="301.8" stroke="#222" stroke-width="0.85" />
<line x1="212.72373511056847" y1="298.8" x2="212.72373511056847" y2="301.8" stroke="#222" stroke-width="0.85" />
<line x1="214.7428568847829" y1="298.8" x2="214.7428568847829" y2="301.8" stroke="#222" stroke-width="0.85" />
<line x1="216.45000002036355" y1="298.8" x2="216.45000002036355" y2="301.8" stroke="#222" stroke-width="0.85" />
<line x1="217.92879466829456" y1="298.8" x2="217.92879466829456" y2="301.8" stroke="#222" stroke-width="0.85" />
<line x1="219.23318399070277" y1="298.8" x2="219.23318399070277" y2="301.8" stroke="#222" stroke-width="0.85" />
<line x1="220.39999999999998" y1="298.8" x2="220.39999999999998" y2="301.8" stroke="#222" stroke-width="0.85" />
<line x1="228.0762648894315" y1="298.8" x2="228.0762648894315" y2="301.8" stroke="#222" stroke-width="0.85" />
<line x1="232.5665919953514" y1="298.8" x2="232.5665919953514" y2="301.8" stroke="#222" stroke-width="0.85" />
<line x1="235.75252977886302" y1="298.8" x2="235.75252977886302" y2="301.8" stroke="#222" stroke-width="0.85" />
<line x1="238.22373511056847" y1="298.8" x2="238.22373511056847" y2="301.8" stroke="#222" stroke-width="0.85" />
<line x1="240.2428568847829" y1="298.8" x2="240.2428568847829" y2="301.8" stroke="#222" stroke-width="0.85" />
<line x1="241.95000002036355" y1="298.8" x2="241.95000002036355" y2="301.8" stroke="#222" stroke-width="0.85" />
<line x1="243.42879466829456" y1="298.8" x2="243.42879466829456" y2="301.8" stroke="#222" stroke-width="0.85" />
<line x1="244.73318399070277" y1="298.8" x2="244.73318399070277" y2="301.8" stroke="#222" stroke-width="0.85" />
<line x1="245.9" y1="298.8" x2="245.9" y2="301.8" stroke="#222" stroke-width="0.85" />
<line x1="253.5762648894315" y1="298.8" x2="253.5762648894315" y2="301.8" stroke="#222" stroke-width="0.85" />
<line x1="258.06659199535136" y1="298.8" x2="258.06659199535136" y2="301.8" stroke="#222" stroke-width="0.85" />
<line x1="261.25252977886305" y1="298.8" x2="261.25252977886305" y2="301.8" stroke="#222" stroke-width="0.85" />
<line x1="263.7237351105685" y1="298.8" x2="263.7237351105685" y2="301.8" stroke="#222" stroke-width="0.85" />
<line x1="265.7428568847829" y1="298.8" x2="265.7428568847829" y2="301.8" stroke="#222" stroke-width="0.85" />
<line x1="267.4500000203635" y1="298.8" x2="267.4500000203635" y2="301.8" stroke="#222" stroke-width="0.85" />
<line x1="268.9287946682946" y1="298.8" x2="268.9287946682946" y2="301.8" stroke="#222" stroke-width="0.85" />
<line x1="270.2331839907028" y1="298.8" x2="270.2331839907028" y2="301.8" stroke="#222" stroke-width="0.85" />
<line x1="271.4" y1="298.8" x2="271.4" y2="301.8" stroke="#222" stroke-width="0.85" />
<line x1="278.9" y1="298.8" x2="278.9" y2="301.8" stroke="#333" stroke-width="0.8" />
<rect x="189.6" y="299.1" width="1.6" height="3.2" fill="#111" />
<path d="M173.2,298.8 L173.2,192.2 L281.59999999999997,192.2 M278.9,192.2 L278.9,298.8 L173.2,298.8" fill="none" stroke="#2a2a2a" stroke-width="0.9"/>
<line x1="281.59999999999997" y1="192.2" x2="281.59999999999997" y2="299.3" stroke="#8a8a8a" stroke-width="0.9" />
<line x1="201.6" y1="192.2" x2="201.6" y2="298.8" stroke="#3a3a48" stroke-width="0.8" />
<line x1="201.6" y1="269.3" x2="278.9" y2="269.3" stroke="#3a3a48" stroke-width="0.8" />
<line x1="93.5" y1="191.6" x2="97" y2="191.6" stroke="#111" stroke-width="1.3" />
<line x1="201.3" y1="191.6" x2="206" y2="191.6" stroke="#111" stroke-width="1.3" />
<line x1="249" y1="191.6" x2="252" y2="191.6" stroke="#111" stroke-width="1.2" />
<text x="143.6" y="205.6" font-family='"Liberation Sans", sans-serif' font-size="9.4" font-weight="bold" font-style="italic" fill="#000" text-anchor="start" textLength="15" lengthAdjust="spacingAndGlyphs"  stroke="#000" stroke-width="0.25">WT</text>
<text x="243.2" y="205.0" font-family='"Liberation Sans", sans-serif' font-size="9.2" font-weight="bold" font-style="italic" fill="#000" text-anchor="start" textLength="22.8" lengthAdjust="spacingAndGlyphs"  stroke="#000" stroke-width="0.25">Skp2</text>
<text x="268.7" y="203.0" font-family='"Liberation Sans", sans-serif' font-size="6" font-weight="bold" font-style="italic" fill="#444" text-anchor="start" textLength="6.1" lengthAdjust="spacingAndGlyphs"  stroke="#444" stroke-width="0.25">-/-</text>
<line x1="55.4" y1="308.4" x2="159.5" y2="308.4" stroke="#111" stroke-width="1.5" />
<path d="M154.8,304.6 L160.2,308.4 L154.8,312.2" fill="none" stroke="#111" stroke-width="1.5"/>
<text x="167.6" y="313.8" font-family='"Liberation Sans", sans-serif' font-size="9.4" font-weight="bold" font-style="normal" fill="#000" text-anchor="start" textLength="69.4" lengthAdjust="spacingAndGlyphs"  stroke="#000" stroke-width="0.25">AnnexinV-FITC</text>
<line x1="359.5" y1="197.7" x2="359.5" y2="301.7" stroke="#c8c8c8" stroke-width="1" />
<line x1="359.5" y1="301.7" x2="467.2" y2="301.7" stroke="#c8c8c8" stroke-width="1" />
<line x1="357.3" y1="301.7" x2="359.5" y2="301.7" stroke="#c8c8c8" stroke-width="1" />
<text x="351.2" y="304.9" font-family='"Liberation Sans", sans-serif' font-size="9.1" font-weight="normal" font-style="normal" fill="#505050" text-anchor="end" >0.0</text>
<line x1="357.3" y1="275.7" x2="359.5" y2="275.7" stroke="#c8c8c8" stroke-width="1" />
<text x="351.2" y="278.9" font-family='"Liberation Sans", sans-serif' font-size="9.1" font-weight="normal" font-style="normal" fill="#505050" text-anchor="end" textLength="17.6" lengthAdjust="spacingAndGlyphs" >20.0</text>
<line x1="357.3" y1="249.7" x2="359.5" y2="249.7" stroke="#c8c8c8" stroke-width="1" />
<text x="351.2" y="252.89999999999998" font-family='"Liberation Sans", sans-serif' font-size="9.1" font-weight="normal" font-style="normal" fill="#505050" text-anchor="end" textLength="17.6" lengthAdjust="spacingAndGlyphs" >40.0</text>
<line x1="357.3" y1="223.7" x2="359.5" y2="223.7" stroke="#c8c8c8" stroke-width="1" />
<text x="351.2" y="226.89999999999998" font-family='"Liberation Sans", sans-serif' font-size="9.1" font-weight="normal" font-style="normal" fill="#505050" text-anchor="end" textLength="17.6" lengthAdjust="spacingAndGlyphs" >60.0</text>
<line x1="357.3" y1="197.7" x2="359.5" y2="197.7" stroke="#c8c8c8" stroke-width="1" />
<text x="351.2" y="200.89999999999998" font-family='"Liberation Sans", sans-serif' font-size="9.1" font-weight="normal" font-style="normal" fill="#505050" text-anchor="end" textLength="17.6" lengthAdjust="spacingAndGlyphs" >80.0</text>
<line x1="414" y1="301.7" x2="414" y2="304.2" stroke="#c8c8c8" stroke-width="1" />
<text transform="translate(327.0,246.8) rotate(-90)" x="0" y="0" font-family='"Liberation Sans", sans-serif' font-size="9.8" font-weight="bold" fill="#000" text-anchor="middle" stroke="#000" stroke-width="0.25" textLength="132.4" lengthAdjust="spacingAndGlyphs">LSK Cell Apoptosis Rate (%)</text>
<rect x="376.6" y="242.8" width="21.4" height="58.89999999999998" fill="#858585" />
<line x1="387.2" y1="242.8" x2="387.2" y2="239.3" stroke="#333" stroke-width="1.3" />
<line x1="384.7" y1="239.3" x2="389.7" y2="239.3" stroke="#333" stroke-width="1.3" />
<text x="388" y="236.6" font-family='"Liberation Sans", sans-serif' font-size="10.5" font-weight="bold" font-style="normal" fill="#000" text-anchor="middle" textLength="8.2" lengthAdjust="spacingAndGlyphs"  stroke="#000" stroke-width="0.25">**</text>
<rect x="430.3" y="222.3" width="21.7" height="79.39999999999998" fill="#262626" />
<line x1="441.1" y1="222.3" x2="441.1" y2="213.8" stroke="#333" stroke-width="1.2" />
<line x1="438.6" y1="213.8" x2="443.6" y2="213.8" stroke="#333" stroke-width="1.2" />
<text x="386.9" y="208" font-family='"Liberation Sans", sans-serif' font-size="9.6" font-weight="bold" stroke="#000" stroke-width="0.25" textLength="40.4" lengthAdjust="spacingAndGlyphs"><tspan font-size="11.5">**</tspan>:<tspan font-style="italic">p</tspan>&lt;0.01</text>
<text x="378.8" y="314.2" font-family='"Liberation Sans", sans-serif' font-size="9.6" font-weight="bold" font-style="italic" fill="#000" text-anchor="start" textLength="16.9" lengthAdjust="spacingAndGlyphs"  stroke="#000" stroke-width="0.25">WT</text>
<text x="379.1" y="326.4" font-family='"Liberation Sans", sans-serif' font-size="9.8" font-weight="bold" font-style="italic" fill="#000" text-anchor="start" textLength="25" lengthAdjust="spacingAndGlyphs"  stroke="#000" stroke-width="0.25">Skp2</text>
<text x="406.8" y="324.2" font-family='"Liberation Sans", sans-serif' font-size="6" font-weight="bold" font-style="italic" fill="#444" text-anchor="start" textLength="6.3" lengthAdjust="spacingAndGlyphs"  stroke="#444" stroke-width="0.25">-/-</text>
<text x="20.9" y="351.3" font-family='"Liberation Sans", sans-serif' font-size="17" font-weight="bold" font-style="normal" fill="#000" text-anchor="start"  stroke="#000" stroke-width="0.25">D</text>
<text x="59.5" y="363.8" font-family='"Liberation Sans", sans-serif' font-size="9.6" font-weight="bold" font-style="normal" fill="#000" text-anchor="start" textLength="22.5" lengthAdjust="spacingAndGlyphs"  stroke="#000" stroke-width="0.25">K562</text>
<line x1="31.2" y1="366.8" x2="110.5" y2="366.8" stroke="#222" stroke-width="1.4" />
<text transform="translate(27.4,392.2) rotate(-25)" font-family='"Liberation Sans", sans-serif' font-size="9" font-weight="bold" stroke="#000" stroke-width="0.25" textLength="26.8" lengthAdjust="spacingAndGlyphs">shGFP</text>
<text transform="translate(63.3,391.8) rotate(-25)" font-family='"Liberation Sans", sans-serif' font-size="9" font-weight="bold" stroke="#000" stroke-width="0.25" textLength="41.2" lengthAdjust="spacingAndGlyphs">shSkp2#1</text>
<text transform="translate(98.4,391.3) rotate(-25)" font-family='"Liberation Sans", sans-serif' font-size="9" font-weight="bold" stroke="#000" stroke-width="0.25" textLength="42.2" lengthAdjust="spacingAndGlyphs">shSkp2#2</text>
<defs><filter id="bl1" x="-50%" y="-50%" width="200%" height="200%"><feGaussianBlur stdDeviation="2.2"/></filter><filter id="bl2" x="-50%" y="-50%" width="200%" height="200%"><feGaussianBlur stdDeviation="1.3"/></filter></defs>
<rect x="5.5" y="394.2" width="119.1" height="49.8" fill="#f4f4f4" />
<ellipse cx="17" cy="408.5" rx="6" ry="2.5" fill="#888" filter="url(#bl2)"/>
<ellipse cx="30" cy="406" rx="15.5" ry="7.2" fill="#000" filter="url(#bl1)"/>
<ellipse cx="28.5" cy="405.5" rx="11" ry="5.2" fill="#000" filter="url(#bl2)"/>
<ellipse cx="65" cy="408.4" rx="14" ry="3.2" fill="#acacac" filter="url(#bl2)"/>
<ellipse cx="99.5" cy="406.8" rx="11" ry="3" fill="#d6d6d6" filter="url(#bl2)"/>
<ellipse cx="30" cy="429.6" rx="13" ry="2.2" fill="#555" filter="url(#bl2)"/>
<ellipse cx="64" cy="429.6" rx="13" ry="2.2" fill="#5a5a5a" filter="url(#bl2)"/>
<ellipse cx="99" cy="429.6" rx="11.5" ry="2.2" fill="#404040" filter="url(#bl2)"/>
<rect x="5.5" y="394.2" width="119.1" height="49.8" fill="none" stroke="#222" stroke-width="1.1"/>
<line x1="5.5" y1="417.4" x2="124.6" y2="417.4" stroke="#222" stroke-width="1.1" />
<text x="126.9" y="409.6" font-family='"Liberation Sans", sans-serif' font-size="8.7" font-weight="bold" font-style="normal" fill="#000" text-anchor="start" textLength="20.8" lengthAdjust="spacingAndGlyphs"  stroke="#000" stroke-width="0.25">Skp2</text>
<text x="126.9" y="430.8" font-family='"Liberation Sans", sans-serif' font-size="8.6" font-weight="bold" font-style="normal" fill="#000" text-anchor="start" textLength="28.1" lengthAdjust="spacingAndGlyphs"  stroke="#000" stroke-width="0.25">β-actin</text>
<text x="160.6" y="351.6" font-family='"Liberation Sans", sans-serif' font-size="17.5" font-weight="bold" font-style="normal" fill="#000" text-anchor="start"  stroke="#000" stroke-width="0.25">E</text>
<line x1="215.5" y1="355.17999999999995" x2="215.5" y2="474.4" stroke="#666" stroke-width="1" />
<line x1="215.5" y1="474.4" x2="341.3" y2="474.4" stroke="#666" stroke-width="1" />
<line x1="213.0" y1="474.4" x2="215.5" y2="474.4" stroke="#666" stroke-width="1" />
<text x="205.3" y="478.0" font-family='"Liberation Serif", serif' font-size="10" font-weight="normal" font-style="normal" fill="#555" text-anchor="end" stroke="#555" stroke-width="0.15">0</text>
<line x1="213.0" y1="454.53" x2="215.5" y2="454.53" stroke="#666" stroke-width="1" />
<text x="205.3" y="458.13" font-family='"Liberation Serif", serif' font-size="10" font-weight="normal" font-style="normal" fill="#555" text-anchor="end" stroke="#555" stroke-width="0.15">10</text>
<line x1="213.0" y1="434.65999999999997" x2="215.5" y2="434.65999999999997" stroke="#666" stroke-width="1" />
<text x="205.3" y="438.26" font-family='"Liberation Serif", serif' font-size="10" font-weight="normal" font-style="normal" fill="#555" text-anchor="end" stroke="#555" stroke-width="0.15">20</text>
<line x1="213.0" y1="414.78999999999996" x2="215.5" y2="414.78999999999996" stroke="#666" stroke-width="1" />
<text x="205.3" y="418.39" font-family='"Liberation Serif", serif' font-size="10" font-weight="normal" font-style="normal" fill="#555" text-anchor="end" stroke="#555" stroke-width="0.15">30</text>
<line x1="213.0" y1="394.91999999999996" x2="215.5" y2="394.91999999999996" stroke="#666" stroke-width="1" />
<text x="205.3" y="398.52" font-family='"Liberation Serif", serif' font-size="10" font-weight="normal" font-style="normal" fill="#555" text-anchor="end" stroke="#555" stroke-width="0.15">40</text>
<line x1="213.0" y1="375.04999999999995" x2="215.5" y2="375.04999999999995" stroke="#666" stroke-width="1" />
<text x="205.3" y="378.65" font-family='"Liberation Serif", serif' font-size="10" font-weight="normal" font-style="normal" fill="#555" text-anchor="end" stroke="#555" stroke-width="0.15">50</text>
<line x1="213.0" y1="355.17999999999995" x2="215.5" y2="355.17999999999995" stroke="#666" stroke-width="1" />
<text x="205.3" y="358.78" font-family='"Liberation Serif", serif' font-size="10" font-weight="normal" font-style="normal" fill="#555" text-anchor="end" stroke="#555" stroke-width="0.15">60</text>
<line x1="215.5" y1="474.4" x2="215.5" y2="477.2" stroke="#666" stroke-width="1" />
<line x1="257.3" y1="474.4" x2="257.3" y2="477.2" stroke="#666" stroke-width="1" />
<line x1="299.6" y1="474.4" x2="299.6" y2="477.2" stroke="#666" stroke-width="1" />
<line x1="341.3" y1="474.4" x2="341.3" y2="477.2" stroke="#666" stroke-width="1" />
<rect x="228.7" y="450.4" width="16.30000000000001" height="24.0" fill="#262626" />
<line x1="236.85" y1="450.4" x2="236.85" y2="447.1" stroke="#333" stroke-width="1.3" />
<line x1="234.35" y1="447.1" x2="239.35" y2="447.1" stroke="#333" stroke-width="1.3" />
<rect x="270.8" y="371.3" width="16.69999999999999" height="103.09999999999997" fill="#262626" />
<line x1="279.15" y1="371.3" x2="279.15" y2="364.4" stroke="#333" stroke-width="1.3" />
<line x1="276.65" y1="364.4" x2="281.65" y2="364.4" stroke="#333" stroke-width="1.3" />
<text x="279.15" y="361.3" font-family='"Liberation Sans", sans-serif' font-size="10" font-weight="bold" font-style="normal" fill="#000" text-anchor="middle"  stroke="#000" stroke-width="0.25">*</text>
<rect x="312.7" y="414" width="16.69999999999999" height="60.39999999999998" fill="#262626" />
<line x1="321.04999999999995" y1="414" x2="321.04999999999995" y2="408.3" stroke="#333" stroke-width="1.3" />
<line x1="318.54999999999995" y1="408.3" x2="323.54999999999995" y2="408.3" stroke="#333" stroke-width="1.3" />
<text x="321.04999999999995" y="404.3" font-family='"Liberation Sans", sans-serif' font-size="10" font-weight="bold" font-style="normal" fill="#000" text-anchor="middle"  stroke="#000" stroke-width="0.25">*</text>
<text x="227.3" y="362.9" font-family='"Liberation Sans", sans-serif' font-size="9.2" font-weight="bold" font-style="normal" fill="#000" text-anchor="start" textLength="20.2" lengthAdjust="spacingAndGlyphs"  stroke="#000" stroke-width="0.25">CPA</text>
<text x="295.4" y="365.9" font-family='"Liberation Sans", sans-serif' font-size="9.6" font-weight="bold" stroke="#000" stroke-width="0.25" textLength="40.2" lengthAdjust="spacingAndGlyphs">*: <tspan font-style="italic">p</tspan>&lt;0.05</text>
<text transform="translate(187.4,407.5) rotate(-90)" x="0" y="0" font-family='"Liberation Sans", sans-serif' font-size="9.6" font-weight="bold" fill="#000" text-anchor="middle" stroke="#000" stroke-width="0.25" textLength="82" lengthAdjust="spacingAndGlyphs">Apoptosis Rate %</text>
<text x="236.8" y="482.4" font-family='"Liberation Sans", sans-serif' font-size="6.8" font-weight="bold" font-style="normal" fill="#000" text-anchor="middle" textLength="21.5" lengthAdjust="spacingAndGlyphs"  stroke="#000" stroke-width="0.25">shGFP</text>
<text x="277.2" y="482.4" font-family='"Liberation Sans", sans-serif' font-size="6.8" font-weight="bold" font-style="normal" fill="#000" text-anchor="middle" textLength="31.4" lengthAdjust="spacingAndGlyphs"  stroke="#000" stroke-width="0.25">shSkp2#1</text>
<text x="317.8" y="482.4" font-family='"Liberation Sans", sans-serif' font-size="6.8" font-weight="bold" font-style="normal" fill="#000" text-anchor="middle" textLength="31.9" lengthAdjust="spacingAndGlyphs"  stroke="#000" stroke-width="0.25">shSkp2#2</text>
<line x1="384.3" y1="356.09999999999997" x2="384.3" y2="474.4" stroke="#666" stroke-width="1" />
<line x1="384.3" y1="474.4" x2="511.3" y2="474.4" stroke="#666" stroke-width="1" />
<line x1="381.8" y1="474.4" x2="384.3" y2="474.4" stroke="#666" stroke-width="1" />
<text x="374.1" y="478.0" font-family='"Liberation Serif", serif' font-size="10" font-weight="normal" font-style="normal" fill="#555" text-anchor="end" stroke="#555" stroke-width="0.15">0</text>
<line x1="381.8" y1="457.5" x2="384.3" y2="457.5" stroke="#666" stroke-width="1" />
<text x="374.1" y="461.1" font-family='"Liberation Serif", serif' font-size="10" font-weight="normal" font-style="normal" fill="#555" text-anchor="end" stroke="#555" stroke-width="0.15">10</text>
<line x1="381.8" y1="440.59999999999997" x2="384.3" y2="440.59999999999997" stroke="#666" stroke-width="1" />
<text x="374.1" y="444.2" font-family='"Liberation Serif", serif' font-size="10" font-weight="normal" font-style="normal" fill="#555" text-anchor="end" stroke="#555" stroke-width="0.15">20</text>
<line x1="381.8" y1="423.7" x2="384.3" y2="423.7" stroke="#666" stroke-width="1" />
<text x="374.1" y="427.3" font-family='"Liberation Serif", serif' font-size="10" font-weight="normal" font-style="normal" fill="#555" text-anchor="end" stroke="#555" stroke-width="0.15">30</text>
<line x1="381.8" y1="406.79999999999995" x2="384.3" y2="406.79999999999995" stroke="#666" stroke-width="1" />
<text x="374.1" y="410.4" font-family='"Liberation Serif", serif' font-size="10" font-weight="normal" font-style="normal" fill="#555" text-anchor="end" stroke="#555" stroke-width="0.15">40</text>
<line x1="381.8" y1="389.9" x2="384.3" y2="389.9" stroke="#666" stroke-width="1" />
<text x="374.1" y="393.5" font-family='"Liberation Serif", serif' font-size="10" font-weight="normal" font-style="normal" fill="#555" text-anchor="end" stroke="#555" stroke-width="0.15">50</text>
<line x1="381.8" y1="373.0" x2="384.3" y2="373.0" stroke="#666" stroke-width="1" />
<text x="374.1" y="376.6" font-family='"Liberation Serif", serif' font-size="10" font-weight="normal" font-style="normal" fill="#555" text-anchor="end" stroke="#555" stroke-width="0.15">60</text>
<line x1="381.8" y1="356.09999999999997" x2="384.3" y2="356.09999999999997" stroke="#666" stroke-width="1" />
<text x="374.1" y="359.7" font-family='"Liberation Serif", serif' font-size="10" font-weight="normal" font-style="normal" fill="#555" text-anchor="end" stroke="#555" stroke-width="0.15">70</text>
<line x1="384.3" y1="474.4" x2="384.3" y2="477.2" stroke="#666" stroke-width="1" />
<line x1="427.7" y1="474.4" x2="427.7" y2="477.2" stroke="#666" stroke-width="1" />
<line x1="469.6" y1="474.4" x2="469.6" y2="477.2" stroke="#666" stroke-width="1" />
<line x1="511.3" y1="474.4" x2="511.3" y2="477.2" stroke="#666" stroke-width="1" />
<rect x="397.3" y="455.2" width="16.899999999999977" height="19.19999999999999" fill="#262626" />
<line x1="405.75" y1="455.2" x2="405.75" y2="451.9" stroke="#333" stroke-width="1.3" />
<line x1="403.25" y1="451.9" x2="408.25" y2="451.9" stroke="#333" stroke-width="1.3" />
<rect x="439.8" y="380.8" width="16.399999999999977" height="93.59999999999997" fill="#262626" />
<line x1="448.0" y1="380.8" x2="448.0" y2="374.6" stroke="#333" stroke-width="1.3" />
<line x1="445.5" y1="374.6" x2="450.5" y2="374.6" stroke="#333" stroke-width="1.3" />
<text x="448.0" y="370.3" font-family='"Liberation Sans", sans-serif' font-size="10" font-weight="bold" font-style="normal" fill="#000" text-anchor="middle"  stroke="#000" stroke-width="0.25">*</text>
<rect x="482.1" y="421.2" width="16.69999999999999" height="53.19999999999999" fill="#262626" />
<line x1="490.45000000000005" y1="421.2" x2="490.45000000000005" y2="416.2" stroke="#333" stroke-width="1.3" />
<line x1="487.95000000000005" y1="416.2" x2="492.95000000000005" y2="416.2" stroke="#333" stroke-width="1.3" />
<text x="490.45000000000005" y="412.0" font-family='"Liberation Sans", sans-serif' font-size="10" font-weight="bold" font-style="normal" fill="#000" text-anchor="middle"  stroke="#000" stroke-width="0.25">*</text>
<text x="397.3" y="360.6" font-family='"Liberation Sans", sans-serif' font-size="9.2" font-weight="bold" font-style="normal" fill="#000" text-anchor="start" textLength="21.2" lengthAdjust="spacingAndGlyphs"  stroke="#000" stroke-width="0.25">5-FU</text>
<text x="462.3" y="367.1" font-family='"Liberation Sans", sans-serif' font-size="9.6" font-weight="bold" stroke="#000" stroke-width="0.25" textLength="40.2" lengthAdjust="spacingAndGlyphs">*: <tspan font-style="italic">p</tspan>&lt;0.05</text>
<text transform="translate(359.3,408.7) rotate(-90)" x="0" y="0" font-family='"Liberation Sans", sans-serif' font-size="9.6" font-weight="bold" fill="#000" text-anchor="middle" stroke="#000" stroke-width="0.25" textLength="82" lengthAdjust="spacingAndGlyphs">Apoptosis Rate %</text>
<text x="407.6" y="482.4" font-family='"Liberation Sans", sans-serif' font-size="6.8" font-weight="bold" font-style="normal" fill="#000" text-anchor="middle" textLength="22.7" lengthAdjust="spacingAndGlyphs"  stroke="#000" stroke-width="0.25">shGFP</text>
<text x="448.5" y="482.4" font-family='"Liberation Sans", sans-serif' font-size="6.8" font-weight="bold" font-style="normal" fill="#000" text-anchor="middle" textLength="32.1" lengthAdjust="spacingAndGlyphs"  stroke="#000" stroke-width="0.25">shSkp2#1</text>
<text x="490.8" y="482.4" font-family='"Liberation Sans", sans-serif' font-size="6.8" font-weight="bold" font-style="normal" fill="#000" text-anchor="middle" textLength="31.3" lengthAdjust="spacingAndGlyphs"  stroke="#000" stroke-width="0.25">shSkp2#2</text>
<defs>
<linearGradient id="gPur" x1="0" y1="0" x2="0" y2="1">
 <stop offset="0" stop-color="#8b3c8f"/><stop offset="0.1" stop-color="#b386b6"/><stop offset="0.24" stop-color="#fbf7fb"/><stop offset="0.66" stop-color="#fdfbfd"/><stop offset="0.82" stop-color="#b583b8"/><stop offset="1" stop-color="#762a7a"/>
</linearGradient>
<linearGradient id="gGry" x1="0" y1="0" x2="0" y2="1">
 <stop offset="0" stop-color="#9a9a9a"/><stop offset="0.4" stop-color="#f0f0f0"/><stop offset="0.6" stop-color="#e6e6e6"/><stop offset="1" stop-color="#8a8a8a"/>
</linearGradient>
<linearGradient id="gArr" x1="0" y1="0" x2="1" y2="0">
 <stop offset="0" stop-color="#b0d2f6"/><stop offset="0.55" stop-color="#7ea3ca"/><stop offset="1" stop-color="#46627e"/>
</linearGradient>
<linearGradient id="gArrV" x1="0" y1="0" x2="0" y2="1">
 <stop offset="0" stop-color="#fff" stop-opacity="0.35"/><stop offset="0.5" stop-color="#fff" stop-opacity="0"/><stop offset="1" stop-color="#000" stop-opacity="0.15"/>
</linearGradient>
<radialGradient id="gS1" cx="0.3" cy="0.3" r="0.8" fx="0.3" fy="0.3">
 <stop offset="0" stop-color="#ffffff"/><stop offset="0.4" stop-color="#fafbfe"/><stop offset="0.7" stop-color="#d0d3f0"/><stop offset="0.9" stop-color="#a3a9e0"/><stop offset="1" stop-color="#9aa0dc"/>
</radialGradient>
<linearGradient id="gS2" x1="0" y1="0" x2="0" y2="1">
 <stop offset="0" stop-color="#36369a"/><stop offset="0.13" stop-color="#5e5eae"/><stop offset="0.28" stop-color="#b8b8cc"/><stop offset="0.38" stop-color="#f6f6d8"/><stop offset="0.6" stop-color="#f6f4cc"/><stop offset="0.72" stop-color="#bcbccc"/><stop offset="0.87" stop-color="#5e5eb0"/><stop offset="1" stop-color="#30309c"/>
</linearGradient>
<radialGradient id="gS2e" cx="0.5" cy="0.5" r="0.5">
 <stop offset="0.8" stop-color="#6060b0" stop-opacity="0"/><stop offset="1" stop-color="#5a5aa8" stop-opacity="0.18"/>
</radialGradient>
<linearGradient id="gRed" x1="0" y1="0" x2="0" y2="1">
 <stop offset="0" stop-color="#e01818"/><stop offset="1" stop-color="#a00000"/>
</linearGradient>
</defs>
<text x="72.4" y="512.2" font-family='"Liberation Sans", sans-serif' font-size="17" font-weight="bold" font-style="normal" fill="#000" text-anchor="start"  stroke="#000" stroke-width="0.25">F</text>
<rect x="98.9" y="505.3" width="318.2" height="167.4" fill="none" stroke="#333" stroke-width="1.3"/>
<line x1="104.2" y1="588" x2="408" y2="588" stroke="#000" stroke-width="2.8" stroke-dasharray="8.5 7"/>
<rect x="116.3" y="521.9" width="35.2" height="16.3" rx="2.8" fill="url(#gPur)"/>
<text x="122.7" y="532.9" font-family='"Liberation Sans", sans-serif' font-size="9.4" font-weight="bold" font-style="normal" fill="#000" text-anchor="start" textLength="22.5" lengthAdjust="spacingAndGlyphs"  stroke="#000" stroke-width="0.25">Skp2</text>
<line x1="133.1" y1="540.6" x2="133.1" y2="551.7" stroke="#e02020" stroke-width="1.8" />
<line x1="127.3" y1="551.7" x2="138.5" y2="551.7" stroke="#e02020" stroke-width="1.8" />
<rect x="116.3" y="556" width="35.2" height="11.5" fill="#d0d0d0" />
<rect x="116.3" y="556" width="35.2" height="1.6" fill="#8e8e8e" />
<rect x="116.3" y="565.9" width="35.2" height="1.6" fill="#8e8e8e" />
<text x="116.6" y="564.6" font-family='"Liberation Sans", sans-serif' font-size="7.4" font-weight="bold" font-style="normal" fill="#222" text-anchor="start" textLength="34.4" lengthAdjust="spacingAndGlyphs"  stroke="#222" stroke-width="0.25">Cyclin D1</text>
<text x="128.7" y="580.8" font-family='"Liberation Sans", sans-serif' font-size="10" font-weight="bold" font-style="normal" fill="#000" text-anchor="start" textLength="20.1" lengthAdjust="spacingAndGlyphs"  stroke="#000" stroke-width="0.25">HSC</text>
<rect x="151.6" y="537.3" width="2.700000000000017" height="6.2" rx="0.8" fill="url(#gArr)" stroke="#1e2d3d" stroke-width="0.9"/>
<rect x="156.2" y="537.3" width="4.600000000000023" height="6.2" rx="0.8" fill="url(#gArr)" stroke="#1e2d3d" stroke-width="0.9"/>
<path d="M164.29999999999998,537.3 L205,537.3 L205,534.1999999999999 L222.3,540.4 L205,546.6 L205,543.5 L164.29999999999998,543.5 Q163.1,543.5 163.1,540.4 Q163.1,537.3 164.29999999999998,537.3 Z" fill="url(#gArr)" stroke="#1e2d3d" stroke-width="0.9" stroke-linejoin="miter"/>
<path d="M164.29999999999998,537.3 L205,537.3 L205,534.1999999999999 L222.3,540.4 L205,546.6 L205,543.5 L164.29999999999998,543.5 Q163.1,543.5 163.1,540.4 Q163.1,537.3 164.29999999999998,537.3 Z" fill="url(#gArrV)"/>
<rect x="269.5" y="537.1" width="2.8000000000000114" height="5.8" rx="0.8" fill="url(#gArr)" stroke="#1e2d3d" stroke-width="0.9"/>
<rect x="273.6" y="537.1" width="3.0" height="5.8" rx="0.8" fill="url(#gArr)" stroke="#1e2d3d" stroke-width="0.9"/>
<path d="M278.2,537.1 L300.4,537.1 L300.4,533.8 L313.3,540.0 L300.4,546.2 L300.4,542.9 L278.2,542.9 Q277.0,542.9 277.0,540.0 Q277.0,537.1 278.2,537.1 Z" fill="url(#gArr)" stroke="#1e2d3d" stroke-width="0.9" stroke-linejoin="miter"/>
<path d="M278.2,537.1 L300.4,537.1 L300.4,533.8 L313.3,540.0 L300.4,546.2 L300.4,542.9 L278.2,542.9 Q277.0,542.9 277.0,540.0 Q277.0,537.1 278.2,537.1 Z" fill="url(#gArrV)"/>
<circle cx="243.5" cy="540.2" r="14.6" fill="url(#gS1)"/>
<text x="233.7" y="543.7" font-family='"Liberation Sans", sans-serif' font-size="10" font-weight="bold" font-style="normal" fill="#000" text-anchor="start" textLength="19.7" lengthAdjust="spacingAndGlyphs"  stroke="#000" stroke-width="0.25">HSC</text>
<circle cx="343.8" cy="522.5" r="14.4" fill="url(#gS1)"/>
<text x="334.0" y="526.0" font-family='"Liberation Sans", sans-serif' font-size="10" font-weight="bold" font-style="normal" fill="#000" text-anchor="start" textLength="19.7" lengthAdjust="spacingAndGlyphs"  stroke="#000" stroke-width="0.25">HSC</text>
<circle cx="343.8" cy="553.8" r="14.4" fill="url(#gS1)"/>
<text x="334.0" y="557.3" font-family='"Liberation Sans", sans-serif' font-size="10" font-weight="bold" font-style="normal" fill="#000" text-anchor="start" textLength="19.7" lengthAdjust="spacingAndGlyphs"  stroke="#000" stroke-width="0.25">HSC</text>
<text x="202.5" y="581.4" font-family='"Liberation Sans", sans-serif' font-size="9.7" font-weight="bold" font-style="normal" fill="#000" text-anchor="start" textLength="89.3" lengthAdjust="spacingAndGlyphs"  stroke="#000" stroke-width="0.25">Stay in Quiescence</text>
<text x="322" y="581.4" font-family='"Liberation Sans", sans-serif' font-size="9.7" font-weight="bold" font-style="normal" fill="#000" text-anchor="start" textLength="86.5" lengthAdjust="spacingAndGlyphs"  stroke="#000" stroke-width="0.25">Maintain HSC Pool</text>
<rect x="110.2" y="598.9" width="35.2" height="15" rx="2.8" fill="url(#gGry)"/>
<text x="116.5" y="610.3" font-family='"Liberation Sans", sans-serif' font-size="10" font-weight="bold" font-style="normal" fill="#000" text-anchor="start" textLength="23.1" lengthAdjust="spacingAndGlyphs"  stroke="#000" stroke-width="0.25">Skp2</text>
<g stroke="#e04848" stroke-opacity="0.8" stroke-width="1.8"><line x1="113" y1="596" x2="143.7" y2="618"/><line x1="113" y1="618" x2="143.7" y2="596"/></g>
<line x1="127.5" y1="619.1" x2="127.5" y2="625.5" stroke="#1f7a30" stroke-width="1.8" />
<path d="M124.7,624.6 L127.5,629.8 L130.3,624.6 Z" fill="#1f7a30"/>
<rect x="109.6" y="632.4" width="35.8" height="11.6" fill="#a9c8ee" />
<rect x="109.6" y="632.4" width="35.8" height="1.7" fill="#5a88cc" />
<rect x="109.6" y="642.3" width="35.8" height="1.7" fill="#5a88cc" />
<text x="110.2" y="641.4" font-family='"Liberation Sans", sans-serif' font-size="7.6" font-weight="bold" font-style="normal" fill="#111" text-anchor="start" textLength="34.6" lengthAdjust="spacingAndGlyphs"  stroke="#111" stroke-width="0.25">Cyclin D1</text>
<rect x="148.6" y="635" width="3.1" height="12.8" fill="url(#gRed)"/><path d="M146.8,636 L150.15,629.8 L153.5,636 Z" fill="#d81010"/>
<rect x="151.8" y="624.1" width="2.799999999999983" height="6.2" rx="0.8" fill="url(#gArr)" stroke="#1e2d3d" stroke-width="0.9"/>
<rect x="156.2" y="624.1" width="4.600000000000023" height="6.2" rx="0.8" fill="url(#gArr)" stroke="#1e2d3d" stroke-width="0.9"/>
<path d="M164.29999999999998,624.1 L205,624.1 L205,620.3000000000001 L222.7,627.2 L205,634.1 L205,630.3000000000001 L164.29999999999998,630.3000000000001 Q163.1,630.3000000000001 163.1,627.2 Q163.1,624.1 164.29999999999998,624.1 Z" fill="url(#gArr)" stroke="#1e2d3d" stroke-width="0.9" stroke-linejoin="miter"/>
<path d="M164.29999999999998,624.1 L205,624.1 L205,620.3000000000001 L222.7,627.2 L205,634.1 L205,630.3000000000001 L164.29999999999998,630.3000000000001 Q163.1,630.3000000000001 163.1,627.2 Q163.1,624.1 164.29999999999998,624.1 Z" fill="url(#gArrV)"/>
<rect x="269.5" y="624.4" width="2.8000000000000114" height="6.2" rx="0.8" fill="url(#gArr)" stroke="#1e2d3d" stroke-width="0.9"/>
<rect x="273.6" y="624.4" width="3.0" height="6.2" rx="0.8" fill="url(#gArr)" stroke="#1e2d3d" stroke-width="0.9"/>
<path d="M278.2,624.4 L300.4,624.4 L300.4,621.0 L313.3,627.5 L300.4,634.0 L300.4,630.6 L278.2,630.6 Q277.0,630.6 277.0,627.5 Q277.0,624.4 278.2,624.4 Z" fill="url(#gArr)" stroke="#1e2d3d" stroke-width="0.9" stroke-linejoin="miter"/>
<path d="M278.2,624.4 L300.4,624.4 L300.4,621.0 L313.3,627.5 L300.4,634.0 L300.4,630.6 L278.2,630.6 Q277.0,630.6 277.0,627.5 Q277.0,624.4 278.2,624.4 Z" fill="url(#gArrV)"/>
<circle cx="243" cy="627" r="14.2" fill="url(#gS2)"/>
<circle cx="243" cy="627" r="14.2" fill="url(#gS2e)"/>
<text x="233.2" y="630.5" font-family='"Liberation Sans", sans-serif' font-size="10" font-weight="bold" font-style="normal" fill="#000" text-anchor="start" textLength="19.7" lengthAdjust="spacingAndGlyphs"  stroke="#000" stroke-width="0.25">HSC</text>
<circle cx="333.8" cy="609.5" r="14.4" fill="url(#gS2)"/>
<circle cx="333.8" cy="609.5" r="14.4" fill="url(#gS2e)"/>
<text x="324.0" y="613.0" font-family='"Liberation Sans", sans-serif' font-size="10" font-weight="bold" font-style="normal" fill="#000" text-anchor="start" textLength="19.7" lengthAdjust="spacingAndGlyphs"  stroke="#000" stroke-width="0.25">HSC</text>
<circle cx="363" cy="625.8" r="14.4" fill="url(#gS2)"/>
<circle cx="363" cy="625.8" r="14.4" fill="url(#gS2e)"/>
<text x="353.2" y="629.3" font-family='"Liberation Sans", sans-serif' font-size="10" font-weight="bold" font-style="normal" fill="#000" text-anchor="start" textLength="19.7" lengthAdjust="spacingAndGlyphs"  stroke="#000" stroke-width="0.25">HSC</text>
<circle cx="333.8" cy="643.8" r="14.4" fill="url(#gS2)"/>
<circle cx="333.8" cy="643.8" r="14.4" fill="url(#gS2e)"/>
<text x="324.0" y="647.3" font-family='"Liberation Sans", sans-serif' font-size="10" font-weight="bold" font-style="normal" fill="#000" text-anchor="start" textLength="19.7" lengthAdjust="spacingAndGlyphs"  stroke="#000" stroke-width="0.25">HSC</text>
<text x="107.3" y="666.9" font-family='"Liberation Sans", sans-serif' font-size="10" font-weight="bold" stroke="#000" stroke-width="0.25"><tspan font-style="italic">Skp2</tspan><tspan font-size="5.5" font-weight="normal" font-style="italic" dy="-4">-/-</tspan><tspan dy="4"> HSC</tspan></text>
<text x="215.8" y="667.2" font-family='"Liberation Sans", sans-serif' font-size="9.6" font-weight="bold" font-style="normal" fill="#000" text-anchor="start" textLength="72.9" lengthAdjust="spacingAndGlyphs"  stroke="#000" stroke-width="0.25">Enter Cell Cycle</text>
<text x="322.5" y="668.8" font-family='"Liberation Sans", sans-serif' font-size="9.8" font-weight="bold" font-style="normal" fill="#000" text-anchor="start" textLength="83" lengthAdjust="spacingAndGlyphs"  stroke="#000" stroke-width="0.25">Expand HSC Pool</text>
</svg>
</body></html>
